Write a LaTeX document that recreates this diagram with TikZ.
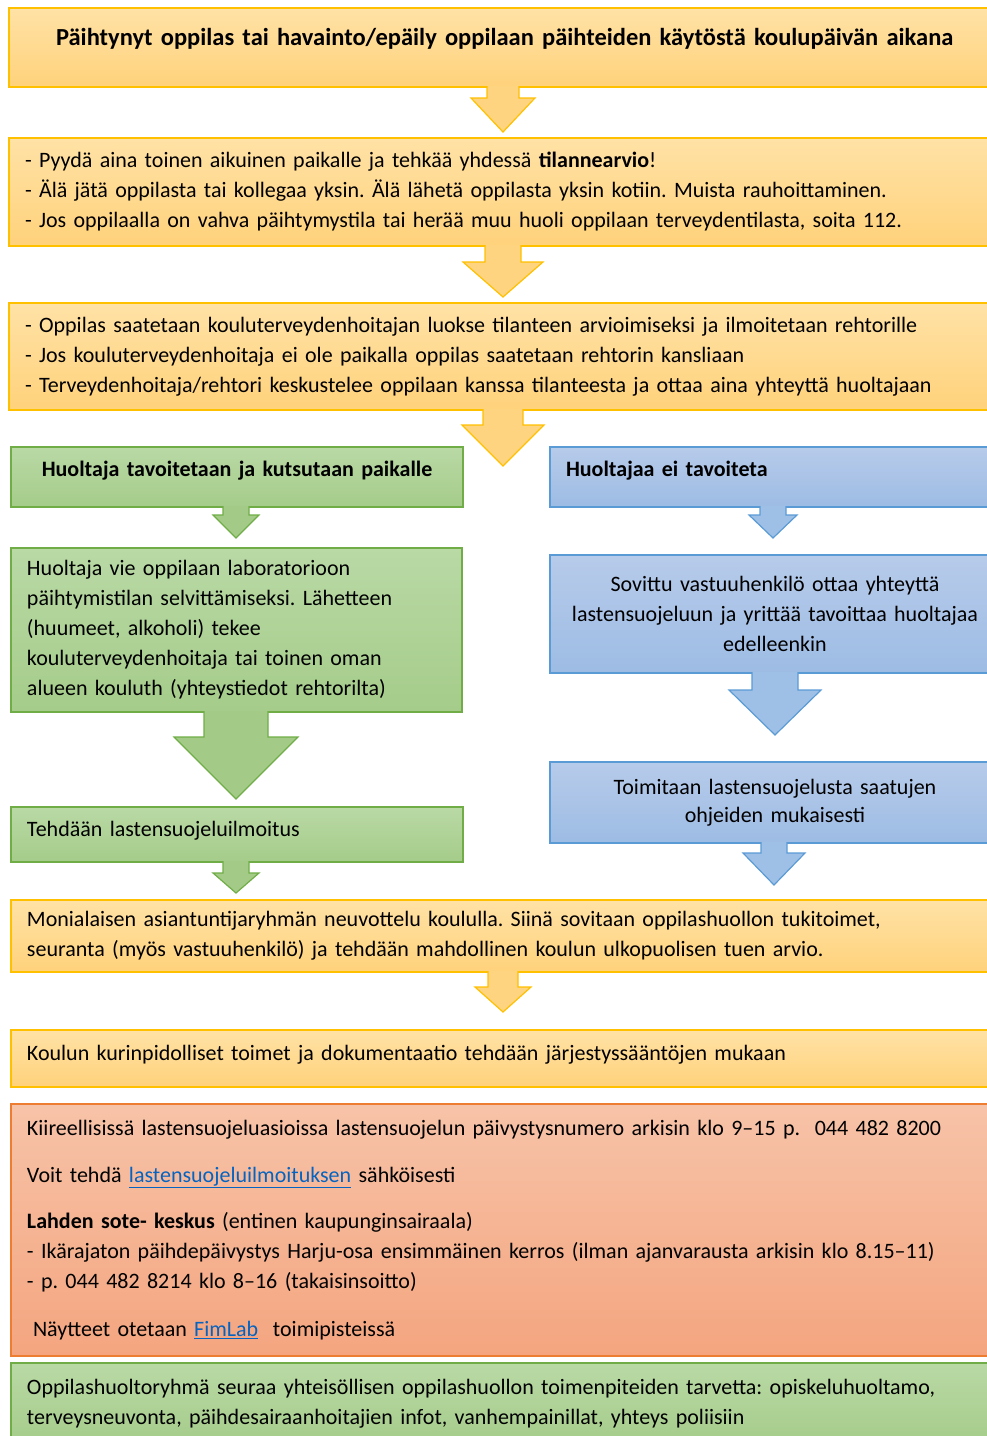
\documentclass[tikz,border=0pt]{standalone}
\usepackage{fontspec}
\setmainfont{Carlito}
\usetikzlibrary{calc}

\definecolor{yline}{HTML}{FFC000}
\definecolor{ytop}{HTML}{FFE2A6}
\definecolor{ybot}{HTML}{FFD27B}
\definecolor{yfill}{HTML}{FFD480}
\definecolor{gline}{HTML}{70AD47}
\definecolor{gtop}{HTML}{B9D9A5}
\definecolor{gbot}{HTML}{A5CC8A}
\definecolor{gfill}{HTML}{A3CB87}
\definecolor{bline}{HTML}{5B9BD5}
\definecolor{btop}{HTML}{B7CBEA}
\definecolor{bbot}{HTML}{9DBCE4}
\definecolor{bfill}{HTML}{9EC0E7}
\definecolor{oline}{HTML}{ED7D31}
\definecolor{otop}{HTML}{F7C3A8}
\definecolor{obot}{HTML}{F4A57F}
\definecolor{linkblue}{HTML}{0563C1}

\newcommand{\weblink}[1]{\textcolor{linkblue}{\underline{#1}}}

% block arrow: style, source node, tip, half shaft, half head, head length
\newcommand{\blockarrow}[6]{%
  \path[#1] let \p1=(#2.south), \p2=(#3) in
    (\x2-#4,\y1+1.5pt) -- (\x2-#4,\y2+#6) -- (\x2-#5,\y2+#6) -- (\p2)
    -- (\x2+#5,\y2+#6) -- (\x2+#4,\y2+#6) -- (\x2+#4,\y1+1.5pt);}

\frenchspacing

\begin{document}
\begin{tikzpicture}[
    x=1pt, y=-1pt,
    box/.style={
        rectangle, line width=1.4pt, inner sep=0pt,
        font=\fontsize{22}{30}\selectfont, align=left
    },
    ybox/.style={box, draw=yline, top color=ytop, bottom color=ybot},
    gbox/.style={box, draw=gline, top color=gtop, bottom color=gbot},
    bbox/.style={box, draw=bline, top color=btop, bottom color=bbot},
    obox/.style={box, draw=oline, top color=otop, bottom color=obot},
    yarrow/.style={fill=yfill, draw=yline, line width=1.2pt, line join=miter},
    garrow/.style={fill=gfill, draw=gline, line width=1.2pt, line join=miter},
    barrow/.style={fill=bfill, draw=bline, line width=1.2pt, line join=miter}
]
\clip (0,0) rectangle (987,1436);

% ===== Start =====
\node[ybox, minimum width=991pt, minimum height=79pt, text width=959pt,
      align=center, text depth=22pt, font=\fontsize{24.5}{30}\selectfont] (start) at (504.5,47.5) {%
    \textbf{Päihtynyt oppilas tai havainto/epäily oppilaan päihteiden käytöstä koulupäivän aikana}};

% ===== Assessment =====
\node[ybox, minimum width=991pt, minimum height=108pt, text width=959pt] (assess) at (504.5,192) {%
    - Pyydä aina toinen aikuinen paikalle ja tehkää yhdessä \textbf{tilannearvio}!\\
    - Älä jätä oppilasta tai kollegaa yksin. Älä lähetä oppilasta yksin kotiin. Muista rauhoittaminen.\\
    - Jos oppilaalla on vahva päihtymystila tai herää muu huoli oppilaan terveydentilasta, soita 112.};

% ===== Nurse / principal =====
\node[ybox, minimum width=991pt, minimum height=107pt, text width=959pt] (nurse) at (504.5,356.5) {%
    - Oppilas saatetaan kouluterveydenhoitajan luokse tilanteen arvioimiseksi ja ilmoitetaan rehtorille\\
    - Jos kouluterveydenhoitaja ei ole paikalla oppilas saatetaan rehtorin kansliaan\\
    - Terveydenhoitaja/rehtori keskustelee oppilaan kanssa tilanteesta ja ottaa aina yhteyttä huoltajaan};

% ===== Guardian reached (left) =====
\node[gbox, minimum width=452pt, minimum height=60pt, text width=440pt,
      align=center, text depth=17pt] (reached) at (237,477) {%
    \textbf{Huoltaja tavoitetaan ja kutsutaan paikalle}};
\node[gbox, minimum width=451pt, minimum height=164pt, text width=419pt] (lab) at (236.5,630) {%
    Huoltaja vie oppilaan laboratorioon\\
    päihtymistilan selvittämiseksi. Lähetteen\\
    (huumeet, alkoholi) tekee\\
    kouluterveydenhoitaja tai toinen oman\\
    alueen kouluth (yhteystiedot rehtorilta)};
\node[gbox, minimum width=452pt, minimum height=55pt, text width=420pt,
      text depth=12pt] (notice) at (237,834.5) {%
    Tehdään lastensuojeluilmoitus};

% ===== Guardian not reached (right) =====
\node[bbox, minimum width=450pt, minimum height=60pt, text width=418pt,
      text depth=17pt] (unreached) at (775,477) {%
    \textbf{Huoltajaa ei tavoiteta}};
\node[bbox, minimum width=450pt, minimum height=118pt, text width=446pt,
      align=center] (contact) at (775,614) {%
    Sovittu vastuuhenkilö ottaa yhteyttä\\
    lastensuojeluun ja yrittää tavoittaa huoltajaa\\
    edelleenkin};
\node[bbox, minimum width=450pt, minimum height=81pt, text width=446pt,
      align=center] (follow) at (775,802.5) {%
    Toimitaan lastensuojelusta saatujen\\[-2pt]
    ohjeiden mukaisesti};

% ===== Meeting =====
\node[ybox, minimum width=989pt, minimum height=72pt, text width=957pt] (meeting) at (505.5,936) {%
    Monialaisen asiantuntijaryhmän neuvottelu koululla. Siinä sovitaan oppilashuollon tukitoimet,\\
    seuranta (myös vastuuhenkilö) ja tehdään mahdollinen koulun ulkopuolisen tuen arvio.};
\node[ybox, minimum width=989pt, minimum height=57pt, text width=957pt,
      text depth=12pt] (rules) at (505.5,1058.5) {%
    Koulun kurinpidolliset toimet ja dokumentaatio tehdään järjestyssääntöjen mukaan};

% ===== Contacts =====
\node[obox, minimum width=989pt, minimum height=252pt, text width=957pt] (info) at (505.5,1230) {%
    Kiireellisissä lastensuojeluasioissa lastensuojelun päivystysnumero arkisin klo 9–15 p.\ \ 044 482 8200\\[17pt]
    Voit tehdä \weblink{lastensuojeluilmoituksen} sähköisesti\\[16pt]
    \textbf{Lahden sote- keskus} (entinen kaupunginsairaala)\\
    - Ikärajaton päihdepäivystys Harju-osa ensimmäinen kerros (ilman ajanvarausta arkisin klo 8.15–11)\\
    - p. 044 482 8214 klo 8–16 (takaisinsoitto)\\[18pt]
    \hspace*{6pt}Näytteet otetaan \weblink{FimLab}\ \ toimipisteissä};
\node[gbox, minimum width=989pt, minimum height=82pt, text width=957pt] (group) at (505.5,1404) {%
    Oppilashuoltoryhmä seuraa yhteisöllisen oppilashuollon toimenpiteiden tarvetta: opiskeluhuoltamo,\\
    terveysneuvonta, päihdesairaanhoitajien infot, vanhempainillat, yhteys poliisiin};

% arrow tips
\coordinate (t1) at (503,132);
\coordinate (t2) at (503,297);
\coordinate (t3) at (503,466);
\coordinate (t4) at (236,538);
\coordinate (t5) at (773,538);
\coordinate (t6) at (236,799);
\coordinate (t7) at (775,735);
\coordinate (t8) at (774,885);
\coordinate (t9) at (236,893);
\coordinate (t10) at (503,1012);

% block arrows
\blockarrow{yarrow}{start}{t1}{16pt}{32pt}{34pt}
\blockarrow{yarrow}{assess}{t2}{18pt}{40pt}{35pt}
\blockarrow{yarrow}{nurse}{t3}{20pt}{41pt}{41pt}
\blockarrow{garrow}{reached}{t4}{13pt}{23pt}{23pt}
\blockarrow{barrow}{unreached}{t5}{13pt}{24pt}{23pt}
\blockarrow{garrow}{lab}{t6}{32pt}{62pt}{62pt}
\blockarrow{barrow}{contact}{t7}{23pt}{46pt}{45pt}
\blockarrow{barrow}{follow}{t8}{13pt}{31pt}{32pt}
\blockarrow{garrow}{notice}{t9}{13pt}{23pt}{20pt}
\blockarrow{yarrow}{meeting}{t10}{15pt}{28pt}{25pt}

\end{tikzpicture}
\end{document}
